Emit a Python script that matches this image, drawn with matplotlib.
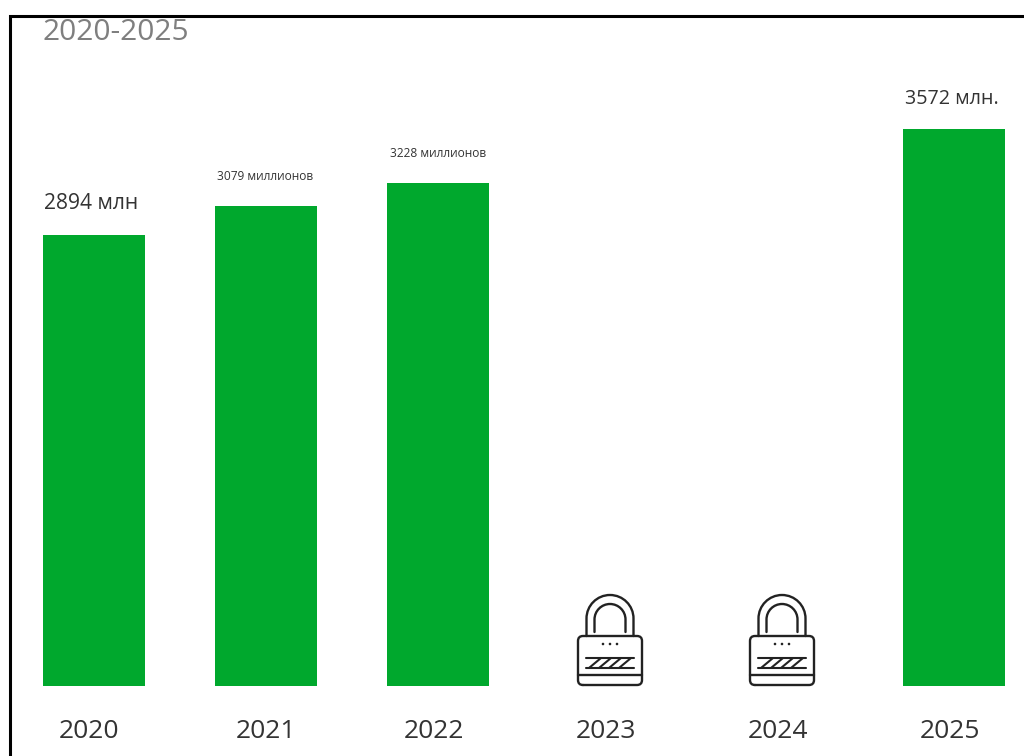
import matplotlib
matplotlib.use("Agg")
import matplotlib.pyplot as plt
from matplotlib.lines import Line2D
from matplotlib.patches import PathPatch, Circle
from matplotlib.path import Path
from matplotlib.transforms import Affine2D

# Values
years = ["2020", "2021", "2022", "2023", "2024", "2025"]
values = [2894, 3079, 3228, None, None, 3572]
labels = ["2894 млн", "3079 миллионов", "3228 миллионов", None, None, "3572 млн."]
title = "2020-2025"

label_sizes = [15.1, 8.6, 8.6, None, None, 14.2]
label_shift = [-3, -1, 0, None, None, -2]
label_gap = [22, 20, 20, None, None, 20]
year_shift = [-5, 0, -4, -4, -4, -4]

GREEN = "#00a82d"
INK = "#333333"

plt.rcParams["font.family"] = ["Open Sans", "DejaVu Sans"]

fig = plt.figure(figsize=(10.24, 7.56), dpi=100)
W, H = 1024, 756

# Axes run from the frame line on the left/top to the bar baseline
ax = fig.add_axes([10 / W, (H - 686) / H, 1014 / W, 671 / H])
ax.set_xlim(-84 / 172, 930 / 172)
ax.set_ylim(0, 671 / 0.1558)

xs = list(range(len(years)))
for i, v in zip(xs, values):
    if v is not None:
        ax.bar(i, v, width=102 / 172, color=GREEN)

for side in ax.spines:
    ax.spines[side].set_visible(False)
ax.set_yticks([])
ax.set_xticks([])

# Black frame on the left and top, running off the lower and right edges
fig.add_artist(Line2D([10 / W, 10 / W, 1], [0, 1 - 15.5 / H, 1 - 15.5 / H],
                      color="black", lw=2.2, solid_joinstyle="miter"))

# Value labels above the bars
for i, v in enumerate(values):
    if v is None:
        continue
    ax.annotate(labels[i], (i, v), xytext=(label_shift[i] * 0.72, label_gap[i] * 0.72 + 10 * 0.72),
                textcoords="offset points", ha="center", va="center",
                fontsize=label_sizes[i], color=INK)

# Year labels under the baseline
for i, y in enumerate(years):
    ax.annotate(y, (i, 0), xytext=(year_shift[i] * 0.72, -45 * 0.72),
                textcoords="offset points", ha="center", va="center",
                fontsize=19, color=INK)

fig.text(42 / W, 1 - 33 / H, title, fontsize=21.5, color="#7f7f7f", ha="left", va="center")


def draw_lock(ax, i):
    # Padlock icon, drawn in pixels around the bar slot's baseline centre
    ox, oy = ax.transData.transform((i, 0))
    tr = Affine2D().translate(ox, oy)
    lw = 1.7
    col = "#222222"

    def stroke(verts, codes=None, width=lw):
        ax.add_patch(PathPatch(Path(verts, codes), fill=False, ec=col, lw=width,
                               transform=tr, clip_on=False, capstyle="round",
                               joinstyle="round"))

    # Body with rounded corners
    l, r, b, t, c = -32, 32, 1, 50, 5
    stroke([(l + c, b), (r - c, b), (r, b), (r, b + c), (r, t - c), (r, t), (r - c, t),
            (l + c, t), (l, t), (l, t - c), (l, b + c), (l, b), (l + c, b)],
           [Path.MOVETO, Path.LINETO, Path.CURVE3, Path.CURVE3, Path.LINETO, Path.CURVE3,
            Path.CURVE3, Path.LINETO, Path.CURVE3, Path.CURVE3, Path.LINETO, Path.CURVE3,
            Path.CURVE3])
    stroke([(l, 11), (r, 11)])

    # Shackle, outer and inner: straight legs closed by a round arch
    k = 0.5523
    for half, top, foot in [(23.5, 91, 50), (15.5, 82, 54)]:
        mid = top - half
        stroke([(-half, foot), (-half, mid),
                (-half, mid + k * half), (-k * half, top), (0, top),
                (k * half, top), (half, mid + k * half), (half, mid),
                (half, foot)],
               [Path.MOVETO, Path.LINETO,
                Path.CURVE4, Path.CURVE4, Path.CURVE4,
                Path.CURVE4, Path.CURVE4, Path.CURVE4,
                Path.LINETO])

    # Keypad dots
    for dx in (-7, 0, 7):
        ax.add_patch(Circle((dx, 42), 1.3, fc=col, ec="none", transform=tr, clip_on=False))

    # Code strip
    stroke([(-24, 28), (24, 28)], width=1.5)
    stroke([(-24, 18), (24, 18)], width=1.5)
    for dx in (-15, -5, 5, 15):
        stroke([(dx - 6, 18), (dx + 6, 28)], width=1.5)


for i, v in enumerate(values):
    if v is None:
        draw_lock(ax, i)

fig.savefig("out.png", dpi=100, facecolor="white")
